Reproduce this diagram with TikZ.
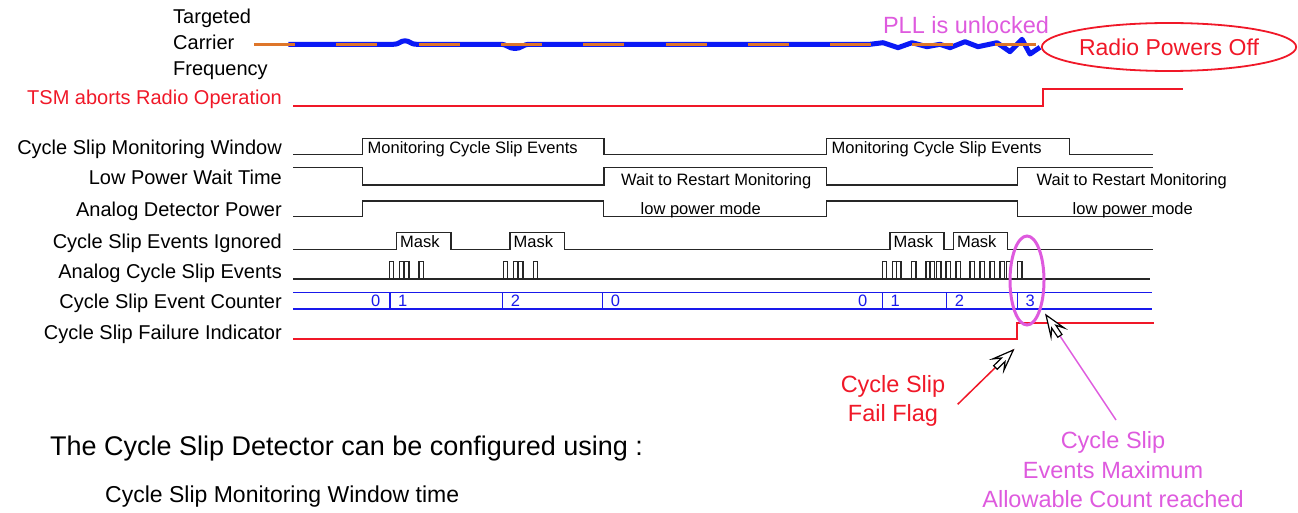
\documentclass[tikz,border=0pt]{standalone}
\usepackage{fontspec}
\setmainfont{Liberation Sans}
\usetikzlibrary{shapes.geometric}
\definecolor{sigred}{RGB}{240,24,40}
\definecolor{sigblue}{RGB}{25,25,235}
\definecolor{sigmag}{RGB}{222,90,222}
\definecolor{sigorange}{RGB}{222,118,42}
\definecolor{topblue}{RGB}{10,25,245}
\begin{document}
\begin{tikzpicture}[x=1pt,y=-1pt,line join=miter,
  sig/.style={line width=1.4pt,black!85},
  redsig/.style={line width=1.7pt,draw=sigred},
  bluesig/.style={line width=1.4pt,sigblue},
  lab/.style={anchor=base east,inner sep=0pt,font=\fontsize{20}{24}\selectfont},
  labw/.style={anchor=base west,inner sep=0pt,font=\fontsize{20}{24}\selectfont},
  inner/.style={anchor=base west,inner sep=0pt,font=\fontsize{16.5}{20}\selectfont},
  cnt/.style={anchor=base west,inner sep=0pt,text=sigblue,font=\fontsize{16.5}{20}\selectfont},
  cntr/.style={anchor=base east,inner sep=0pt,text=sigblue,font=\fontsize{16.5}{20}\selectfont},
  big/.style={anchor=base,inner sep=0pt,font=\fontsize{23.5}{28}\selectfont},
  cursorshape/.style={draw=black,fill=white,line width=1.2pt,line join=miter}]
\useasboundingbox (0,0) rectangle (1298,513);

% ---------- top: carrier frequency ----------
\node[labw] (tg1) at (173,23.3) {Targeted};
\node[labw] (tg2) at (173,50) {Carrier};
\node[labw] (tg3) at (173,76) {Frequency};
\draw[topblue,line width=5pt,line join=round]
  (288.3,44.3) -- (393,44.3) .. controls (400,44.3) and (400,40.8) .. (405,40.8)
  .. controls (410,40.8) and (410,44.3) .. (417,44.3) -- (500,44.3)
  .. controls (508,44.3) and (508,48.5) .. (515,48.5)
  .. controls (522,48.5) and (522,44.3) .. (530,44.3) -- (870,44.3)
  -- (883,42.7) -- (898,47.7) -- (912,42.7) -- (927,46.7) -- (940,44.3)
  -- (950,47.7) -- (965,41.7) -- (978,46.7) -- (997,42.7) -- (1010,51.7)
  -- (1022,39.3) -- (1030,54) -- (1040,47.3);
\draw[sigorange,line width=3pt,dash pattern=on 41pt off 41.3pt] (254,44.3) -- (1035.7,44.3);
\node[big,text=sigmag] (pll) at (966,33.3) {PLL is unlocked};
\node[draw=sigred,line width=1.8pt,ellipse,minimum width=248pt,minimum height=48pt,inner sep=0pt,text=sigred,font=\fontsize{23}{28}\selectfont] (radio) at (1169,47) {Radio Powers Off};

% ---------- TSM aborts ----------
\node[lab,text=sigred] (lTsm) at (282,105) {TSM aborts Radio Operation};
\draw[redsig] (293.3,106) -- (1042.7,106) -- (1042.7,89.3) -- (1182.7,89.3);

% ---------- row labels ----------
\node[lab] (lWin) at (282,154.3) {Cycle Slip Monitoring Window};
\node[lab] (lWait) at (282,184.5) {Low Power Wait Time};
\node[lab] (lPow) at (282,216.7) {Analog Detector Power};
\node[lab] (lIgn) at (282,248.5) {Cycle Slip Events Ignored};
\node[lab] (lEv) at (282,278.5) {Analog Cycle Slip Events};
\node[lab] (lCnt) at (282,308.5) {Cycle Slip Event Counter};
\node[lab] (lFail) at (282,339.3) {Cycle Slip Failure Indicator};

% ---------- row 1: monitoring window ----------
\draw[sig] (293.3,154.3) -- (362.7,154.3) -- (362.7,138.3) -- (604,138.3) -- (604,154.3)
  -- (826.7,154.3) -- (826.7,138.3) -- (1069.3,138.3) -- (1069.3,154.3) -- (1152.7,154.3);
\node[inner] (mon1) at (367.5,153.5) {Monitoring Cycle Slip Events};
\node[inner] (mon2) at (831.5,153.5) {Monitoring Cycle Slip Events};

% ---------- row 2: low power wait ----------
\draw[sig] (293.3,167.7) -- (362.7,167.7) -- (362.7,185) -- (604,185) -- (604,167.7)
  -- (826.7,167.7) -- (826.7,185) -- (1017.3,185) -- (1017.3,167.7) -- (1152.7,167.7);
\node[inner] (wait1) at (621,185.5) {Wait to Restart Monitoring};
\node[inner] (wait2) at (1036.5,185.5) {Wait to Restart Monitoring};

% ---------- row 3: analog detector power ----------
\draw[sig] (293.3,216.7) -- (362.7,216.7) -- (362.7,201) -- (603.5,201) -- (603.5,216.7)
  -- (826.7,216.7) -- (826.7,201) -- (1017.3,201) -- (1017.3,216.7) -- (1152.7,216.7);
\node[inner] (lpm1) at (640.5,214.3) {low power mode};
\node[inner] (lpm2) at (1072.5,214.3) {low power mode};

% ---------- row 4: events ignored ----------
\draw[sig] (293.3,249.3) -- (396.7,249.3) -- (396.7,232.7) -- (451,232.7) -- (451,249.3)
  -- (510,249.3) -- (510,232.7) -- (564.3,232.7) -- (564.3,249.3)
  -- (890,249.3) -- (890,232.7) -- (944,232.7) -- (944,249.3)
  -- (953.3,249.3) -- (953.3,232.7) -- (1007.3,232.7) -- (1007.3,249.3) -- (1152.7,249.3);
\node[inner] (mask1) at (400,247.7) {Mask};
\node[inner] (mask2) at (513.5,247.7) {Mask};
\node[inner] (mask3) at (893.5,247.7) {Mask};
\node[inner] (mask4) at (956.8,247.7) {Mask};

% ---------- row 5: analog cycle slip events ----------
\draw[sig] (293.3,279) -- (1150,279);
\foreach \p in {389.3,399.3,404.7,419,503.3,513.3,518.7,533.3,
                882.3,892.3,896.7,911.7,926,930,936.7,946,956,970,980,990,1000,1006.2,1017.7}
  \draw[line width=1.2pt,black!85] (\p,279) -- ++(0,-17.3) -- ++(4.3,0) -- ++(0,17.3);

% ---------- row 6: counter ----------
\draw[bluesig] (293.3,292.7) -- (1151.7,292.7);
\draw[bluesig] (293.3,309) -- (1151.7,309);
\foreach \d in {390,502.7,602.7,882.3,946.7,1017.3}
  \draw[bluesig] (\d,292.7) -- (\d,309);
\node[cntr] (c0a) at (380.5,306.7) {0};
\node[cnt] (c1a) at (398,306.7) {1};
\node[cnt] (c2a) at (510.7,306.7) {2};
\node[cnt] (c0b) at (610.7,306.7) {0};
\node[cntr] (c0c) at (867.5,306.7) {0};
\node[cnt] (c1b) at (890.3,306.7) {1};
\node[cnt] (c2b) at (954.7,306.7) {2};
\node[cnt] (c3) at (1025.3,306.7) {3};

% ---------- row 7: failure indicator ----------
\draw[redsig] (293.3,339.3) -- (1017.3,339.3) -- (1017.3,322.7) -- (1154,322.7);

% ---------- magenta ellipse ----------
\draw[sigmag,line width=3pt] (1027,280.5) ellipse [x radius=17pt,y radius=44.5pt];

% ---------- annotations ----------
\node[big,text=sigred] (ff1) at (893,392.7) {Cycle Slip};
\node[big,text=sigred] (ff2) at (893,421.7) {Fail Flag};
\node[big,text=sigmag] (mx1) at (1113,448.3) {Cycle Slip};
\node[big,text=sigmag] (mx2) at (1113,478.3) {Events Maximum};
\node[big,text=sigmag] (mx3) at (1113,507.3) {Allowable Count reached};

\coordinate (ffFrom) at (957.7,404.3);
\coordinate (ffTip) at (1013.3,350);
\coordinate (mxFrom) at (1116,420);
\coordinate (mxTip) at (1046,315);
\draw[sigred,line width=1.5pt] (ffFrom) -- (ffTip);
\draw[sigmag,line width=1.5pt] (mxFrom) -- (mxTip);
\begin{scope}[shift={(ffTip)},rotate=44.3]
  \draw[cursorshape] (0,0) -- (-21,-8) -- (-14,-2.5) -- (-25,-2.5) -- (-25,2.5) -- (-14,2.5) -- (-21,8) -- cycle;
\end{scope}
\begin{scope}[shift={(mxTip)},rotate=123.7]
  \draw[cursorshape] (0,0) -- (-21,-8) -- (-14,-2.5) -- (-25,-2.5) -- (-25,2.5) -- (-14,2.5) -- (-21,8) -- cycle;
\end{scope}

% ---------- bottom text ----------
\node[anchor=base west,inner sep=0pt,font=\fontsize{27}{32}\selectfont] (conf) at (50,455) {The Cycle Slip Detector can be configured using :};
\node[anchor=base west,inner sep=0pt,font=\fontsize{23}{28}\selectfont] (conf2) at (105,502.3) {Cycle Slip Monitoring Window time};
\end{tikzpicture}
\end{document}
